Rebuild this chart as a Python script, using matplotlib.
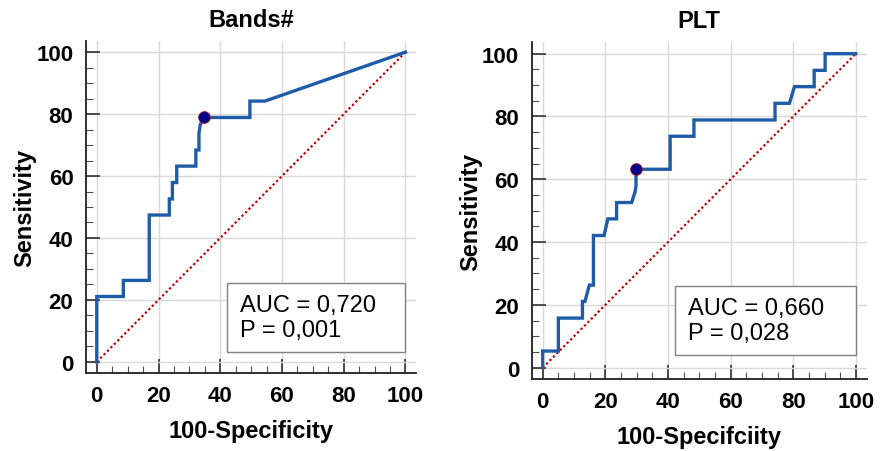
import matplotlib
matplotlib.use('Agg')
import matplotlib.pyplot as plt
from matplotlib.patches import Rectangle
from matplotlib.ticker import MultipleLocator

plt.rcParams['font.family'] = ['Liberation Sans', 'DejaVu Sans']

# ROC curve (100-Specificity, Sensitivity)
bands_x = [0, 0, 8.6, 8.6, 17.0, 17.0, 23.5, 23.5, 24.5, 24.5, 25.9, 25.9,
           32.1, 32.1, 33.1, 33.1, 33.5, 34.7, 49.6, 49.6, 54.5, 100]
bands_y = [0, 21.1, 21.1, 26.3, 26.3, 47.4, 47.4, 52.6, 52.6, 57.9, 57.9, 63.2,
           63.2, 68.4, 68.4, 73.7, 76.5, 78.9, 78.9, 84.2, 84.2, 100]
bands_cut = (34.7, 78.9)

plt_x = [0, 0, 5.0, 5.0, 12.7, 12.7, 13.5, 14.9, 16.2, 16.2, 19.6, 20.8, 23.6,
         23.6, 28.4, 29.5, 29.8, 29.8, 40.7, 40.7, 48.3, 48.3, 74.2, 74.2, 78.8,
         80.4, 86.7, 86.7, 90.2, 90.2, 100]
plt_y = [0, 5.3, 5.3, 15.8, 15.8, 21.1, 21.1, 26.3, 26.3, 42.1, 42.1, 47.4, 47.4,
         52.6, 52.6, 56.0, 57.9, 63.2, 63.2, 73.7, 73.7, 78.9, 78.9, 84.2, 84.2,
         89.5, 89.5, 94.7, 94.7, 100, 100]
plt_cut = (29.8, 63.2)

titles = ['Bands#', 'PLT']
xlabels = ['100-Specificity', '100-Specifciity']
auc_text = ['AUC = 0,720\nP = 0,001', 'AUC = 0,660\nP = 0,028']

fig = plt.figure(figsize=(8.88, 4.52), dpi=100)
ax1 = fig.add_axes([0.0968, 0.1726, 0.372, 0.7345])
ax2 = fig.add_axes([0.5988, 0.1593, 0.3773, 0.7447])

curves = [(bands_x, bands_y, bands_cut), (plt_x, plt_y, plt_cut)]
boxes = [(42.1, 3.3, 57.9, 22.0), (42.1, 4.0, 58.1, 22.1)]

for i, ax in enumerate([ax1, ax2]):
    cx, cy, cut = curves[i]
    ax.set_xlim(-3.5, 103.5)
    ax.set_ylim(-3.6, 103.6)
    ax.plot([0, 100], [0, 100], color='#c00000', lw=1.6, ls=(0, (1, 1.2)), zorder=2)
    ax.plot(cx, cy, color='#1f5ca8', lw=2.4, solid_joinstyle='miter', zorder=3)
    ax.plot(*cut, 'o', color='#00008b', mec='#b02020', mew=0.6, ms=8.5, zorder=4)

    bx, by, bw, bh = boxes[i]
    ax.add_patch(Rectangle((bx, by), bw, bh, facecolor='white', edgecolor='#808080',
                           lw=1.0, zorder=5))
    ax.text(bx + 4.3, by + bh / 2, auc_text[i], fontsize=17, va='center', ha='left',
            linespacing=1.15, zorder=6)

    ax.xaxis.set_major_locator(MultipleLocator(20))
    ax.yaxis.set_major_locator(MultipleLocator(20))
    ax.xaxis.set_minor_locator(MultipleLocator(5))
    ax.yaxis.set_minor_locator(MultipleLocator(5))
    ax.grid(True, which='major', color='#d9d9d9', lw=1.0, zorder=0)
    ax.set_axisbelow(True)
    for s in ['top', 'right']:
        ax.spines[s].set_visible(False)
    for s in ['left', 'bottom']:
        ax.spines[s].set_linewidth(1.3)
        ax.spines[s].set_color('#202020')
    ax.tick_params(which='major', direction='in', length=10, width=1.2, color='#303030',
                   labelsize=16, pad=9)
    ax.tick_params(which='minor', direction='in', length=5, width=0.8, color='#505050')
    for lab in ax.get_xticklabels() + ax.get_yticklabels():
        lab.set_fontweight('bold')

    ax.set_title(titles[i], fontsize=17, fontweight='bold', pad=11)
    ax.set_xlabel(xlabels[i], fontsize=17, fontweight='bold', labelpad=9)
    ax.set_ylabel('Sensitivity', fontsize=17, fontweight='bold', labelpad=0)

fig.savefig('out.png', dpi=100)
